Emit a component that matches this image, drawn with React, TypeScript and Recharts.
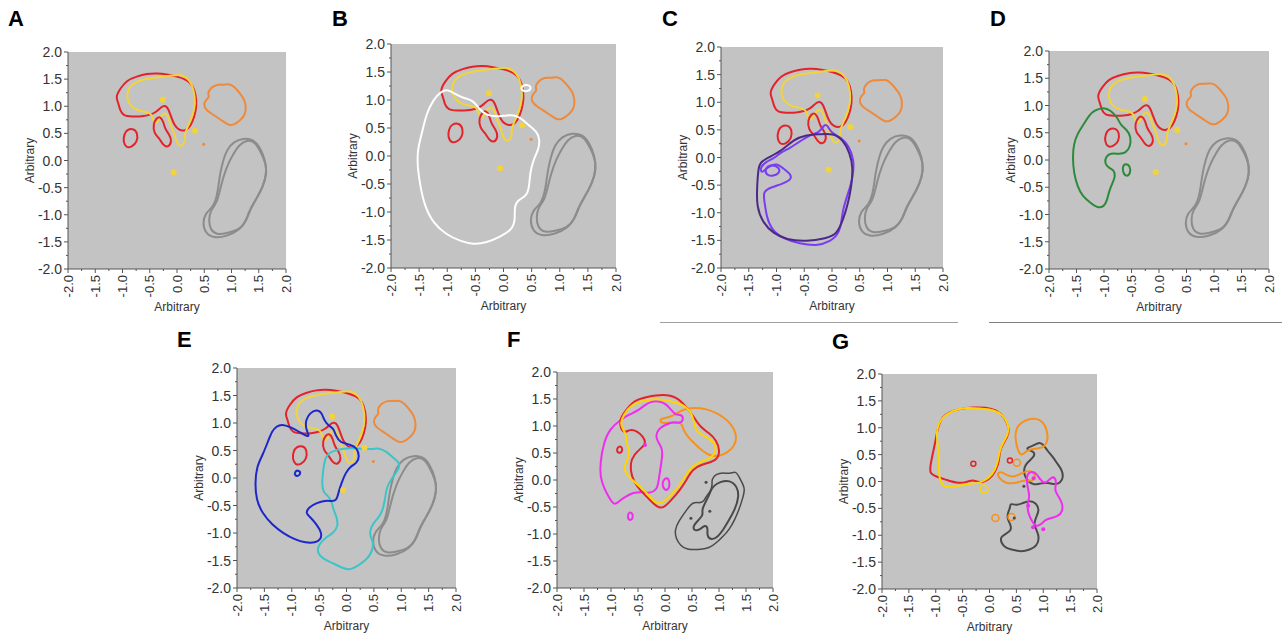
import React from "react";
import { LineChart, Line, XAxis, YAxis, ReferenceArea } from "recharts";

type Pt = [number, number];

// axis ticks (major every 0.5 gets a label, minor every 0.25)
const TICKS = [-2, -1.75, -1.5, -1.25, -1, -0.75, -0.5, -0.25, 0, 0.25, 0.5, 0.75, 1, 1.25, 1.5, 1.75, 2];

// ---- contours shared by panels A-E ----
const redMain: Pt[] = [[-1.13, 1.17], [-1.04, 1.33], [-0.92, 1.48], [-0.74, 1.55], [-0.55, 1.6], [-0.37, 1.61], [-0.19, 1.59], [0.0, 1.55], [0.18, 1.49], [0.29, 1.39], [0.35, 1.2], [0.36, 0.99], [0.32, 0.81], [0.25, 0.63], [0.15, 0.54], [0.03, 0.56], [-0.05, 0.65], [-0.11, 0.81], [-0.16, 0.96], [-0.22, 1.02], [-0.3, 0.98], [-0.37, 0.9], [-0.49, 0.84], [-0.64, 0.81], [-0.83, 0.81], [-0.98, 0.82], [-1.05, 0.93], [-1.07, 1.05]];
const yellowMain: Pt[] = [[-0.93, 1.17], [-0.89, 1.34], [-0.77, 1.45], [-0.55, 1.51], [-0.31, 1.54], [-0.06, 1.57], [0.09, 1.59], [0.24, 1.48], [0.31, 1.3], [0.34, 1.05], [0.29, 0.84], [0.21, 0.65], [0.14, 0.5], [0.15, 0.36], [0.1, 0.26], [0.01, 0.28], [-0.03, 0.42], [-0.07, 0.55], [-0.12, 0.65], [-0.15, 0.78], [-0.2, 0.88], [-0.27, 0.86], [-0.33, 0.76], [-0.38, 0.66], [-0.44, 0.74], [-0.47, 0.87], [-0.58, 0.9], [-0.72, 0.92], [-0.86, 1.0]];
const redBlob1: Pt[] = [[-0.92, 0.57], [-0.79, 0.59], [-0.72, 0.5], [-0.73, 0.34], [-0.83, 0.25], [-0.93, 0.23], [-0.99, 0.35], [-0.97, 0.48]];
const redBlob2: Pt[] = [[-0.37, 0.79], [-0.44, 0.67], [-0.42, 0.5], [-0.33, 0.42], [-0.26, 0.29], [-0.17, 0.23], [-0.09, 0.35], [-0.14, 0.48], [-0.22, 0.58], [-0.25, 0.72], [-0.31, 0.81]];
const orangeMain: Pt[] = [[0.61, 1.33], [0.73, 1.41], [0.85, 1.39], [0.97, 1.42], [1.07, 1.34], [1.16, 1.23], [1.23, 1.14], [1.27, 0.99], [1.25, 0.84], [1.16, 0.74], [1.04, 0.65], [0.94, 0.65], [0.82, 0.74], [0.67, 0.84], [0.53, 0.93], [0.49, 1.02], [0.52, 1.11], [0.6, 1.17], [0.56, 1.23]];
const grayA: Pt[] = [[1.04, 0.35], [1.22, 0.41], [1.4, 0.39], [1.52, 0.25], [1.62, 0.01], [1.65, -0.24], [1.58, -0.48], [1.46, -0.7], [1.34, -0.91], [1.28, -1.09], [1.16, -1.28], [0.91, -1.4], [0.67, -1.43], [0.52, -1.34], [0.47, -1.15], [0.52, -0.97], [0.67, -0.85], [0.73, -0.66], [0.76, -0.48], [0.79, -0.24], [0.85, 0.01], [0.91, 0.19]];
const grayB: Pt[] = [[1.13, 0.28], [1.28, 0.38], [1.43, 0.35], [1.55, 0.13], [1.65, -0.11], [1.62, -0.36], [1.52, -0.6], [1.4, -0.79], [1.31, -0.97], [1.25, -1.15], [1.13, -1.28], [0.91, -1.34], [0.73, -1.37], [0.61, -1.28], [0.58, -1.09], [0.62, -0.91], [0.73, -0.79], [0.79, -0.54], [0.85, -0.3], [0.94, -0.05], [1.04, 0.13]];
const yellowDots: Pt[] = [[0.33, 0.55], [-0.06, -0.22], [-0.26, 1.12]];
const orangeDots: Pt[] = [[0.49, 0.3]];

// ---- panel specific contours ----
const whiteMain: Pt[] = [[-0.98, 1.19], [-0.89, 1.12], [-0.71, 1.03], [-0.54, 1.0], [-0.42, 0.82], [-0.3, 0.73], [-0.12, 0.7], [0.06, 0.73], [0.23, 0.73], [0.35, 0.64], [0.47, 0.53], [0.59, 0.44], [0.65, 0.29], [0.62, 0.11], [0.53, -0.07], [0.47, -0.31], [0.46, -0.54], [0.41, -0.72], [0.26, -0.78], [0.19, -0.9], [0.21, -1.14], [0.15, -1.32], [-0.06, -1.44], [-0.3, -1.55], [-0.54, -1.58], [-0.77, -1.52], [-1.01, -1.41], [-1.25, -1.2], [-1.4, -0.9], [-1.48, -0.54], [-1.53, -0.19], [-1.53, 0.11], [-1.45, 0.41], [-1.37, 0.76], [-1.25, 1.0], [-1.12, 1.15]];
const whiteSmall: Pt[] = [[0.32, 1.25], [0.44, 1.28], [0.51, 1.21], [0.41, 1.14], [0.31, 1.18]];

const purpleDark: Pt[] = [[-1.3, -0.08], [-1.12, 0.01], [-0.88, 0.14], [-0.7, 0.32], [-0.46, 0.41], [-0.22, 0.42], [0.02, 0.44], [0.2, 0.32], [0.32, 0.08], [0.38, -0.17], [0.35, -0.53], [0.29, -0.83], [0.2, -1.13], [0.08, -1.4], [-0.1, -1.46], [-0.46, -1.52], [-0.82, -1.49], [-1.06, -1.37], [-1.24, -1.19], [-1.36, -0.89], [-1.35, -0.53], [-1.33, -0.23]];
const purpleBright: Pt[] = [[-1.18, -0.07], [-1.05, -0.02], [-0.94, 0.08], [-0.76, 0.17], [-0.58, 0.29], [-0.4, 0.41], [-0.22, 0.45], [-0.13, 0.62], [-0.07, 0.56], [-0.01, 0.44], [0.17, 0.36], [0.31, 0.2], [0.4, -0.05], [0.38, -0.35], [0.29, -0.65], [0.2, -0.92], [0.17, -1.16], [0.13, -1.37], [-0.04, -1.53], [-0.28, -1.6], [-0.58, -1.56], [-0.88, -1.47], [-1.09, -1.31], [-1.18, -1.07], [-1.21, -0.83], [-1.25, -0.62], [-1.1, -0.54], [-0.9, -0.48], [-0.73, -0.4], [-0.74, -0.3], [-0.88, -0.2], [-1.0, -0.1], [-1.16, -0.17], [-1.27, -0.3], [-1.3, -0.18]];
const purpleLoop: Pt[] = [[-1.21, -0.19], [-1.09, -0.13], [-0.96, -0.17], [-0.93, -0.27], [-1.06, -0.34], [-1.19, -0.32]];

const greenMain: Pt[] = [[-1.18, 0.91], [-1.0, 0.97], [-0.88, 0.91], [-0.76, 0.79], [-0.7, 0.64], [-0.58, 0.55], [-0.51, 0.43], [-0.52, 0.24], [-0.61, 0.12], [-0.73, 0.11], [-0.88, 0.13], [-0.97, 0.06], [-0.99, -0.06], [-0.91, -0.15], [-0.82, -0.18], [-0.79, -0.3], [-0.85, -0.43], [-0.91, -0.58], [-0.94, -0.73], [-1.0, -0.86], [-1.12, -0.88], [-1.24, -0.79], [-1.39, -0.67], [-1.48, -0.49], [-1.55, -0.24], [-1.57, 0.06], [-1.55, 0.3], [-1.48, 0.49], [-1.36, 0.67], [-1.27, 0.82]];
const greenLoop: Pt[] = [[-0.61, -0.06], [-0.52, -0.11], [-0.52, -0.25], [-0.59, -0.31], [-0.66, -0.23], [-0.66, -0.11]];

const blueMain: Pt[] = [[-1.28, 0.94], [-1.18, 0.98], [-1.03, 0.93], [-0.88, 0.85], [-0.75, 0.77], [-0.67, 0.75], [-0.74, 0.88], [-0.75, 1.05], [-0.67, 1.18], [-0.55, 1.25], [-0.45, 1.19], [-0.41, 1.05], [-0.33, 0.95], [-0.24, 0.91], [-0.19, 0.76], [-0.12, 0.64], [0.07, 0.61], [0.19, 0.55], [0.24, 0.39], [0.19, 0.27], [0.07, 0.21], [-0.02, 0.09], [-0.09, -0.09], [-0.15, -0.27], [-0.18, -0.41], [-0.27, -0.42], [-0.39, -0.41], [-0.54, -0.45], [-0.69, -0.53], [-0.75, -0.64], [-0.66, -0.71], [-0.54, -0.85], [-0.45, -1.0], [-0.47, -1.12], [-0.57, -1.18], [-0.75, -1.18], [-0.94, -1.12], [-1.15, -1.01], [-1.36, -0.85], [-1.54, -0.64], [-1.65, -0.39], [-1.67, -0.09], [-1.64, 0.21], [-1.53, 0.42], [-1.42, 0.7], [-1.36, 0.85]];
const blueLoop: Pt[] = [[-0.95, 0.11], [-0.88, 0.15], [-0.83, 0.09], [-0.88, 0.03], [-0.94, 0.04]];
const cyanMain: Pt[] = [[-0.41, 0.27], [-0.36, 0.44], [-0.18, 0.52], [0.07, 0.55], [0.31, 0.53], [0.49, 0.52], [0.58, 0.55], [0.74, 0.48], [0.86, 0.36], [0.98, 0.27], [0.95, 0.15], [0.83, 0.0], [0.74, -0.15], [0.71, -0.33], [0.67, -0.58], [0.58, -0.73], [0.49, -0.82], [0.43, -0.94], [0.43, -1.06], [0.5, -1.18], [0.46, -1.36], [0.37, -1.48], [0.19, -1.61], [0.07, -1.67], [-0.05, -1.65], [-0.24, -1.55], [-0.42, -1.48], [-0.54, -1.36], [-0.51, -1.21], [-0.39, -1.09], [-0.24, -1.0], [-0.15, -0.88], [-0.18, -0.7], [-0.24, -0.58], [-0.27, -0.42], [-0.33, -0.33], [-0.43, -0.26], [-0.45, -0.09], [-0.43, 0.09]];

const fRed: Pt[] = [[-0.84, 1.11], [-0.77, 1.23], [-0.58, 1.48], [-0.34, 1.54], [-0.03, 1.59], [0.22, 1.54], [0.4, 1.35], [0.54, 1.16], [0.65, 0.98], [0.83, 0.86], [0.95, 0.74], [1.02, 0.55], [0.97, 0.37], [0.77, 0.31], [0.58, 0.25], [0.46, 0.12], [0.4, 0.0], [0.28, -0.18], [0.12, -0.37], [-0.03, -0.53], [-0.15, -0.5], [-0.28, -0.37], [-0.4, -0.25], [-0.52, -0.12], [-0.62, 0.06], [-0.65, 0.31], [-0.57, 0.48], [-0.43, 0.6], [-0.35, 0.68], [-0.4, 0.8], [-0.52, 0.91], [-0.65, 0.94], [-0.74, 0.87], [-0.82, 0.94]];
const fRedLoop: Pt[] = [[-0.88, 0.61], [-0.81, 0.63], [-0.78, 0.55], [-0.83, 0.49], [-0.9, 0.52]];
const fYellow: Pt[] = [[-0.83, 1.05], [-0.77, 1.2], [-0.65, 1.38], [-0.4, 1.48], [-0.15, 1.51], [0.09, 1.46], [0.34, 1.4], [0.49, 1.26], [0.54, 1.05], [0.58, 0.89], [0.74, 0.81], [0.88, 0.74], [0.97, 0.57], [0.86, 0.4], [0.65, 0.34], [0.46, 0.22], [0.37, 0.06], [0.28, -0.09], [0.12, -0.28], [-0.06, -0.44], [-0.18, -0.43], [-0.29, -0.3], [-0.43, -0.15], [-0.57, -0.03], [-0.71, 0.09], [-0.77, 0.25], [-0.68, 0.4], [-0.65, 0.54], [-0.72, 0.68], [-0.71, 0.83], [-0.78, 0.94]];
const fOrange: Pt[] = [[-0.09, 1.14], [0.09, 1.16], [0.22, 1.24], [0.37, 1.32], [0.55, 1.34], [0.77, 1.32], [0.98, 1.23], [1.17, 1.1], [1.29, 0.94], [1.33, 0.77], [1.28, 0.62], [1.15, 0.5], [1.0, 0.44], [0.86, 0.44], [0.71, 0.52], [0.54, 0.68], [0.41, 0.81], [0.33, 0.95], [0.31, 1.06], [0.18, 1.08], [0.03, 1.05], [-0.09, 1.06]];
const fMagenta: Pt[] = [[-1.2, 0.06], [-1.2, 0.31], [-1.14, 0.68], [-1.02, 0.95], [-0.83, 1.11], [-0.65, 1.22], [-0.49, 1.29], [-0.39, 1.38], [-0.25, 1.46], [-0.09, 1.46], [0.03, 1.4], [0.12, 1.29], [0.2, 1.2], [0.29, 1.22], [0.35, 1.14], [0.29, 1.04], [0.15, 1.08], [0.0, 1.02], [-0.12, 0.95], [-0.18, 0.81], [-0.12, 0.69], [-0.04, 0.57], [-0.06, 0.37], [-0.09, 0.18], [-0.12, -0.03], [-0.15, -0.18], [-0.28, -0.25], [-0.43, -0.22], [-0.58, -0.23], [-0.74, -0.31], [-0.86, -0.4], [-0.94, -0.47], [-1.03, -0.34], [-1.13, -0.15]];
const fMagLoop1: Pt[] = [[0.0, 0.04], [0.07, 0.03], [0.09, -0.09], [0.06, -0.19], [-0.02, -0.18], [-0.06, -0.06]];
const fMagLoop2: Pt[] = [[-0.67, -0.59], [-0.6, -0.61], [-0.59, -0.71], [-0.65, -0.76], [-0.7, -0.69]];
const fGrayOuter: Pt[] = [[0.18, -0.92], [0.25, -0.77], [0.4, -0.55], [0.52, -0.4], [0.63, -0.43], [0.72, -0.4], [0.76, -0.3], [0.84, -0.22], [0.88, -0.09], [0.86, 0.01], [0.94, 0.11], [1.08, 0.14], [1.2, 0.11], [1.31, 0.17], [1.37, 0.06], [1.45, -0.09], [1.48, -0.18], [1.43, -0.37], [1.37, -0.55], [1.29, -0.74], [1.19, -0.92], [1.06, -1.06], [0.94, -1.17], [0.83, -1.26], [0.62, -1.29], [0.4, -1.29], [0.29, -1.22], [0.2, -1.08]];
const fGrayInner: Pt[] = [[0.88, -0.12], [1.02, -0.03], [1.2, 0.0], [1.34, -0.12], [1.37, -0.31], [1.3, -0.54], [1.17, -0.77], [1.08, -0.92], [0.98, -1.05], [0.86, -1.12], [0.77, -1.03], [0.8, -0.89], [0.74, -0.83], [0.66, -0.91], [0.55, -0.95], [0.51, -0.86], [0.62, -0.74], [0.71, -0.65], [0.68, -0.55], [0.74, -0.43], [0.8, -0.31], [0.84, -0.22]];
const fMagentaDots: Pt[] = [[-0.37, 0.65]];
const fGrayDots: Pt[] = [[0.76, -0.04], [0.83, -0.58], [0.48, -0.71]];

const gRed: Pt[] = [[-1.1, 0.14], [-1.11, 0.25], [-1.06, 0.5], [-1.0, 0.77], [-0.96, 1.02], [-0.88, 1.2], [-0.74, 1.3], [-0.56, 1.35], [-0.31, 1.38], [-0.06, 1.38], [0.13, 1.33], [0.28, 1.2], [0.38, 0.96], [0.33, 0.82], [0.24, 0.68], [0.19, 0.56], [0.18, 0.39], [0.13, 0.23], [0.05, 0.09], [-0.07, 0.0], [-0.21, -0.02], [-0.31, 0.04], [-0.43, -0.02], [-0.62, -0.03], [-0.8, 0.03], [-0.99, 0.09]];
const gYellow: Pt[] = [[-0.97, 0.71], [-0.99, 0.96], [-0.9, 1.18], [-0.68, 1.33], [-0.43, 1.38], [-0.18, 1.36], [0.07, 1.34], [0.25, 1.24], [0.36, 1.05], [0.35, 0.89], [0.26, 0.74], [0.19, 0.59], [0.16, 0.39], [0.1, 0.2], [-0.01, 0.06], [-0.18, -0.03], [-0.37, -0.04], [-0.52, -0.07], [-0.68, -0.09], [-0.8, -0.12], [-0.91, -0.04], [-0.95, 0.19], [-0.93, 0.43]];
const gOrange: Pt[] = [[0.47, 0.84], [0.5, 0.99], [0.57, 1.08], [0.7, 1.16], [0.87, 1.18], [1.0, 1.11], [1.07, 0.96], [1.09, 0.77], [1.03, 0.65], [0.92, 0.61], [0.78, 0.61], [0.67, 0.56], [0.61, 0.48], [0.53, 0.54]];
const gOrange2: Pt[] = [[0.13, 0.15], [0.22, 0.19], [0.33, 0.11], [0.45, 0.08], [0.57, 0.14], [0.7, 0.2], [0.8, 0.19], [0.87, 0.09], [0.8, 0.0], [0.67, 0.03], [0.55, -0.01], [0.42, -0.04], [0.3, -0.03], [0.2, 0.04]];
const gGrayUpper: Pt[] = [[0.67, 0.62], [0.81, 0.66], [0.93, 0.74], [1.01, 0.68], [1.07, 0.58], [1.18, 0.46], [1.26, 0.33], [1.34, 0.23], [1.38, 0.09], [1.32, -0.03], [1.21, -0.06], [1.09, -0.02], [0.96, -0.03], [0.82, -0.07], [0.72, 0.0], [0.64, 0.12], [0.64, 0.27], [0.72, 0.37], [0.82, 0.45], [0.85, 0.54], [0.75, 0.58]];
const gGrayLower: Pt[] = [[0.38, -0.4], [0.5, -0.45], [0.62, -0.4], [0.75, -0.35], [0.87, -0.4], [0.93, -0.53], [0.87, -0.66], [0.82, -0.79], [0.88, -0.91], [0.93, -1.05], [0.88, -1.2], [0.75, -1.27], [0.59, -1.31], [0.44, -1.27], [0.3, -1.24], [0.22, -1.15], [0.2, -1.03], [0.31, -0.97], [0.41, -0.91], [0.39, -0.79], [0.33, -0.7], [0.34, -0.58], [0.39, -0.48]];
const gMagenta: Pt[] = [[0.7, 0.14], [0.78, 0.19], [0.87, 0.16], [0.95, 0.02], [1.03, -0.04], [1.11, 0.03], [1.17, 0.09], [1.23, 0.06], [1.24, -0.04], [1.21, -0.17], [1.29, -0.29], [1.36, -0.41], [1.36, -0.56], [1.27, -0.65], [1.15, -0.68], [1.04, -0.71], [0.96, -0.8], [0.87, -0.84], [0.81, -0.77], [0.76, -0.68], [0.72, -0.58], [0.7, -0.43], [0.75, -0.28], [0.72, -0.15], [0.69, 0.0]];
const gRedRings: Pt[] = [[-0.3, 0.33], [0.38, 0.39]];
const gYellowRings: Pt[] = [[-0.1, -0.14]];
const gOrangeRings: Pt[] = [[0.51, 0.35], [0.11, -0.68], [0.41, -0.66]];
const gMagentaDots: Pt[] = [[0.81, -0.85], [1.0, -0.89], [0.82, 0.06], [0.72, -0.45]];
const gGrayDots: Pt[] = [[0.64, -0.09], [0.46, -0.68]];

const C = {
  red: "#e3232a",
  yellow: "#f2d43a",
  orange: "#ee8a3c",
  gray: "#8c8c8c",
  white: "#ffffff",
  purple: "#7a3cf4",
  purpleDark: "#4b2a86",
  green: "#2b8b3a",
  blue: "#1d27c9",
  cyan: "#3cc5c8",
  magenta: "#f02cf0",
  darkGray: "#4a4a4a",
  fOrange: "#f5921e",
  fYellow: "#ffd400",
};

type Series = { pts: Pt[]; color: string; kind?: "line" | "dot" | "ring"; r?: number };

const base: Series[] = [
  { pts: grayA, color: C.gray },
  { pts: grayB, color: C.gray },
  { pts: orangeMain, color: C.orange },
  { pts: redMain, color: C.red },
  { pts: yellowMain, color: C.yellow },
  { pts: redBlob1, color: C.red },
  { pts: redBlob2, color: C.red },
  { pts: yellowDots, color: C.yellow, kind: "dot", r: 3 },
  { pts: orangeDots, color: C.orange, kind: "dot", r: 1.5 },
];

type PanelDef = { label: string; lx: number; ly: number; x: number; y: number; w: number; h: number; series: Series[] };

const panels: PanelDef[] = [
  { label: "A", lx: 8, ly: 8, x: 68, y: 52, w: 218, h: 217, series: base },
  { label: "B", lx: 332, ly: 8, x: 391, y: 44, w: 225, h: 224, series: [...base, { pts: whiteMain, color: C.white }, { pts: whiteSmall, color: C.white }] },
  { label: "C", lx: 662, ly: 8, x: 721, y: 47, w: 222, h: 221, series: [...base, { pts: purpleBright, color: C.purple }, { pts: purpleLoop, color: C.purple }, { pts: purpleDark, color: C.purpleDark }] },
  { label: "D", lx: 990, ly: 8, x: 1049, y: 51, w: 220, h: 218, series: [...base, { pts: greenMain, color: C.green }, { pts: greenLoop, color: C.green }] },
  { label: "E", lx: 177, ly: 329, x: 237, y: 368, w: 219, h: 220, series: [...base, { pts: cyanMain, color: C.cyan }, { pts: blueMain, color: C.blue }, { pts: blueLoop, color: C.blue }] },
  {
    label: "F", lx: 507, ly: 329, x: 557, y: 372, w: 216, h: 216,
    series: [
      { pts: fGrayOuter, color: C.darkGray, r: 1.5 },
      { pts: fGrayInner, color: C.darkGray },
      { pts: fOrange, color: C.fOrange },
      { pts: fMagenta, color: C.magenta },
      { pts: fMagLoop1, color: C.magenta },
      { pts: fMagLoop2, color: C.magenta },
      { pts: fRed, color: C.red },
      { pts: fRedLoop, color: C.red },
      { pts: fYellow, color: C.fYellow },
      { pts: fMagentaDots, color: C.magenta, kind: "dot", r: 2 },
      { pts: fGrayDots, color: C.darkGray, kind: "dot", r: 1.5 },
    ],
  },
  {
    label: "G", lx: 832, ly: 331, x: 882, y: 374, w: 215, h: 215,
    series: [
      { pts: gGrayUpper, color: C.darkGray },
      { pts: gGrayLower, color: C.darkGray },
      { pts: gOrange, color: C.fOrange },
      { pts: gOrange2, color: C.fOrange },
      { pts: gMagenta, color: C.magenta },
      { pts: gRed, color: C.red },
      { pts: gYellow, color: C.fYellow },
      { pts: gRedRings, color: C.red, kind: "ring", r: 2.5 },
      { pts: gYellowRings, color: C.fYellow, kind: "ring", r: 4 },
      { pts: gOrangeRings, color: C.fOrange, kind: "ring", r: 3.5 },
      { pts: gMagentaDots, color: C.magenta, kind: "dot", r: 2 },
      { pts: gGrayDots, color: C.darkGray, kind: "dot", r: 1.5 },
    ],
  },
];

const FONT = "'Liberation Sans', Arial, Helvetica, sans-serif";
const isMajor = (v: number) => Math.abs(v * 2 - Math.round(v * 2)) < 1e-6;

function YTick(props: any) {
  const { x, y, payload } = props;
  const v = payload.value as number;
  const major = isMajor(v);
  return (
    <g>
      <line x1={x - (major ? 4 : 2)} x2={x} y1={y} y2={y} stroke="#555" strokeWidth={1} />
      {major && (
        <text x={x - 6} y={y} textAnchor="end" dominantBaseline="central" fontSize={14} fill="#333" fontFamily={FONT}>
          {v.toFixed(1)}
        </text>
      )}
    </g>
  );
}

function XTick(props: any) {
  const { x, y, payload } = props;
  const v = payload.value as number;
  const major = isMajor(v);
  return (
    <g>
      <line x1={x} x2={x} y1={y} y2={y + (major ? 4 : 2)} stroke="#555" strokeWidth={1} />
      {major && (
        <text
          x={x}
          y={y + 6}
          transform={`rotate(-90, ${x}, ${y + 6})`}
          textAnchor="end"
          dominantBaseline="central"
          fontSize={13}
          fill="#333"
          fontFamily={FONT}
        >
          {v.toFixed(1)}
        </text>
      )}
    </g>
  );
}

const rows = (pts: Pt[]) => pts.map(([x, y]) => ({ x, y }));

function Panel({ p }: { p: PanelDef }) {
  const { x, y, w, h } = p;
  const W = w + 70;
  const H = h + 60;
  return (
    <>
      <div style={{ position: "absolute", left: p.lx, top: p.ly, fontFamily: FONT, fontWeight: 700, fontSize: 22, lineHeight: "22px", color: "#000" }}>
        {p.label}
      </div>
      <div style={{ position: "absolute", left: x - 60, top: y - 10 }}>
        <LineChart width={W} height={H} margin={{ top: 10, right: 10, left: 0, bottom: 0 }}>
          <XAxis
            type="number"
            dataKey="x"
            domain={[-2, 2]}
            ticks={TICKS}
            interval={0}
            allowDataOverflow
            height={50}
            tickSize={0}
            tickMargin={0}
            tickLine={false}
            axisLine={{ stroke: "#555" }}
            tick={<XTick />}
            label={{
              content: () => (
                <text x={60 + w / 2} y={10 + h + 38} textAnchor="middle" dominantBaseline="central" fontSize={12} fill="#333" fontFamily={FONT}>
                  Arbitrary
                </text>
              ),
            }}
          />
          <YAxis
            type="number"
            dataKey="y"
            domain={[-2, 2]}
            ticks={TICKS}
            interval={0}
            allowDataOverflow
            width={60}
            tickSize={0}
            tickMargin={0}
            tickLine={false}
            axisLine={{ stroke: "#555" }}
            tick={<YTick />}
            label={{
              content: () => (
                <text
                  x={22}
                  y={10 + h / 2}
                  transform={`rotate(-90, 22, ${10 + h / 2})`}
                  textAnchor="middle"
                  dominantBaseline="central"
                  fontSize={12}
                  fill="#333"
                  fontFamily={FONT}
                >
                  Arbitrary
                </text>
              ),
            }}
          />
          <ReferenceArea x1={-2} x2={2} y1={-2} y2={2} fill="#c3c3c3" fillOpacity={1} stroke="none" ifOverflow="visible" />
          {p.series.map((s, i) =>
            s.kind === "dot" || s.kind === "ring" ? (
              <Line
                key={i}
                data={rows(s.pts)}
                dataKey="y"
                type="linear"
                stroke="none"
                isAnimationActive={false}
                activeDot={false}
                dot={(d: any) => (
                  <circle
                    key={d.index}
                    cx={d.cx}
                    cy={d.cy}
                    r={s.r ?? 2}
                    fill={s.kind === "dot" ? s.color : "none"}
                    stroke={s.color}
                    strokeWidth={s.kind === "dot" ? 0 : 1.5}
                  />
                )}
              />
            ) : (
              <Line
                key={i}
                data={rows(s.pts)}
                dataKey="y"
                type="basisClosed"
                stroke={s.color}
                strokeWidth={s.r ?? 2}
                dot={false}
                activeDot={false}
                isAnimationActive={false}
              />
            )
          )}
        </LineChart>
      </div>
    </>
  );
}

export default function App() {
  return (
    <div style={{ position: "absolute", left: 0, top: 0, width: 1287, height: 640, background: "#fff", overflow: "hidden" }}>
      {panels.map((p) => (
        <Panel key={p.label} p={p} />
      ))}
      <div style={{ position: "absolute", left: 660, top: 322, width: 298, height: 1, background: "#a0a0a0" }} />
      <div style={{ position: "absolute", left: 989, top: 322, width: 293, height: 1, background: "#808080" }} />
    </div>
  );
}
